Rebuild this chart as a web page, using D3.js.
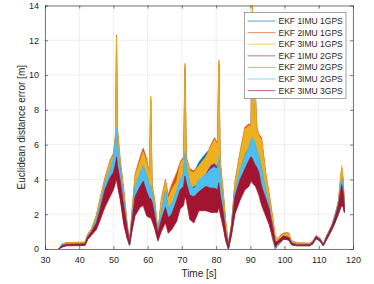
<!DOCTYPE html>
<html>
<head>
<meta charset="utf-8">
<style>
body { margin: 0; background: #fff; }
text { font-family: "Liberation Sans", Arial, sans-serif; fill: #262626; }
.axis path, .axis line { stroke: #262626; stroke-width: 0.6; }
.axis text { font-size: 9px; fill: #262626; }
</style>
</head>
<body>
<svg width="374" height="284"></svg>
<script src="https://d3js.org/d3.v7.min.js"></script>
<script>

// time samples [s], shared by all series
var time = [
  34, 35, 36.3, 41.7, 42.5, 43.6, 45, 46, 47.5, 49,
  50, 50.6, 50.9, 51.2, 52, 53, 54, 54.7, 55.3, 56.3,
  57.8, 58.7, 59.7, 60.5, 60.9, 61.3, 62, 63, 64, 65.2,
  66, 67, 68.5, 69.5, 70.5, 70.9, 71.3, 72.3, 73.5, 75,
  77, 78.5, 79.5, 80.4, 80.8, 81.2, 82, 82.8, 83.6, 84.5,
  85.5, 87, 88.4, 89.6, 90.2, 90.6, 91.0, 91.5, 91.9, 92.5,
  93.3, 94.5, 95.5, 96.5, 97.3, 98, 98.8, 99.6, 100.6, 101.3,
  102, 103.5, 107.4, 108.3, 109.2, 110.4, 111.3, 112.3, 113.8, 114.7,
  115.7, 116.7, 117.1, 117.5];

// each series is noisy, so it is kept as lower / upper envelope of the noise band
var ekf1imu1gpsHi = [
  0, 0.28, 0.34, 0.36, 0.82, 1.12, 1.85, 2.7, 3.9, 4.9,
  5.3, 6.2, 11.8, 6.6, 4.9, 3.2, 1.3, 0.4, 1.7, 4.0,
  5.0, 5.4, 4.9, 4.2, 8.5, 3.5, 2.7, 0.9, 2.7, 3.8,
  2.8, 3.3, 4.0, 4.8, 5.1, 10.4, 5.1, 4.4, 4.4, 5.0,
  5.5, 5.8, 6.1, 5.9, 10.6, 4.9, 3.3, 1.5, 0.25, 1.3,
  3.7, 5.4, 6.8, 7.0, 6.9, 13.5, 7.0, 8.7, 6.8, 6.4,
  6.2, 4.2, 3.0, 1.7, 0.6, 0.45, 0.7, 0.8, 0.85, 0.8,
  0.4, 0.3, 0.3, 0.42, 0.72, 0.58, 0.26, 0.72, 1.3, 1.85,
  2.6, 4.6, 3.9, 2.4];
var ekf1imu1gpsLo = [
  0, 0.18, 0.26, 0.28, 0.65, 0.9, 1.4, 2.2, 3.3, 4.1,
  4.5, 4.9, 5.3, 4.9, 3.7, 2.1, 0.8, 0.2, 1.2, 3.1,
  3.9, 4.3, 3.7, 3.0, 3.1, 2.5, 1.7, 0.6, 1.8, 2.9,
  1.9, 2.3, 3.1, 3.7, 4.0, 4.3, 4.1, 3.5, 3.5, 3.8,
  4.1, 4.4, 4.6, 4.4, 4.7, 3.7, 2.3, 0.8, 0.0, 0.9,
  2.7, 4.5, 5.4, 5.7, 5.9, 5.9, 5.9, 5.7, 5.4, 5.1,
  4.7, 3.2, 2.3, 1.1, 0.25, 0.3, 0.5, 0.65, 0.65, 0.6,
  0.3, 0.22, 0.22, 0.35, 0.6, 0.45, 0.18, 0.55, 1.1, 1.55,
  2.1, 3.1, 2.7, 2.1];

var ekf2imu1gpsHi = [
  0, 0.3, 0.37, 0.4, 0.86, 1.18, 1.95, 2.85, 4.1, 5.1,
  5.5, 6.6, 12.3, 6.9, 5.1, 3.5, 1.5, 0.5, 1.9, 4.3,
  5.3, 5.8, 5.2, 4.4, 8.7, 3.7, 2.9, 1.0, 2.9, 4.0,
  3.1, 3.7, 4.4, 5.0, 5.3, 10.6, 5.3, 4.6, 4.5, 4.8,
  5.3, 6.0, 6.4, 6.1, 10.8, 5.1, 3.5, 1.6, 0.3, 1.4,
  3.9, 5.6, 7.0, 7.2, 7.1, 14.0, 7.3, 8.9, 7.0, 6.6,
  6.4, 4.4, 3.2, 1.9, 0.75, 0.55, 0.8, 0.9, 0.95, 0.9,
  0.48, 0.36, 0.34, 0.47, 0.78, 0.62, 0.3, 0.78, 1.4, 1.95,
  2.75, 4.7, 4.1, 2.6];
var ekf2imu1gpsLo = [
  0, 0.2, 0.28, 0.3, 0.7, 0.95, 1.5, 2.3, 3.4, 4.2,
  4.6, 5.0, 5.5, 5.0, 3.8, 2.2, 0.9, 0.25, 1.3, 3.2,
  4.0, 4.5, 3.9, 3.1, 3.2, 2.6, 1.8, 0.7, 1.9, 3.0,
  2.1, 2.5, 3.3, 3.8, 4.1, 4.4, 4.2, 3.6, 3.6, 3.9,
  4.2, 4.5, 4.7, 4.5, 4.8, 3.8, 2.4, 0.9, 0.05, 1.0,
  2.8, 4.6, 5.5, 5.8, 6.0, 6.0, 6.0, 5.8, 5.5, 5.2,
  4.8, 3.3, 2.4, 1.2, 0.3, 0.35, 0.55, 0.7, 0.7, 0.65,
  0.35, 0.25, 0.25, 0.38, 0.65, 0.5, 0.2, 0.6, 1.15, 1.6,
  2.2, 3.2, 2.8, 2.2];

var ekf3imu1gpsHi = [
  0, 0.3, 0.36, 0.38, 0.85, 1.15, 1.9, 2.8, 4.0, 5.0,
  5.4, 6.4, 12.2, 6.8, 5.0, 3.3, 1.4, 0.45, 1.8, 4.2,
  5.1, 5.6, 5.0, 4.3, 8.8, 3.6, 2.8, 1.0, 2.8, 3.9,
  2.9, 3.4, 3.9, 4.9, 5.2, 10.7, 5.2, 4.5, 4.4, 4.8,
  5.3, 5.9, 6.3, 6.0, 10.9, 5.0, 3.4, 1.6, 0.3, 1.4,
  3.8, 5.5, 6.9, 7.1, 7.0, 14.5, 7.2, 9.0, 6.9, 6.5,
  6.3, 4.3, 3.1, 1.8, 0.7, 0.5, 0.75, 0.85, 0.9, 0.85,
  0.45, 0.35, 0.32, 0.45, 0.75, 0.6, 0.28, 0.75, 1.35, 1.9,
  2.7, 4.8, 4.0, 2.5];
var ekf3imu1gpsLo = [
  0, 0.2, 0.28, 0.3, 0.7, 0.95, 1.5, 2.3, 3.4, 4.2,
  4.6, 5.0, 5.5, 5.0, 3.8, 2.2, 0.9, 0.25, 1.3, 3.2,
  4.0, 4.4, 3.8, 3.1, 3.2, 2.6, 1.8, 0.7, 1.9, 3.0,
  2.0, 2.4, 3.2, 3.8, 4.1, 4.4, 4.2, 3.6, 3.6, 3.9,
  4.2, 4.5, 4.7, 4.5, 4.8, 3.8, 2.4, 0.9, 0.05, 1.0,
  2.8, 4.6, 5.5, 5.8, 6.0, 6.0, 6.0, 5.8, 5.5, 5.2,
  4.8, 3.3, 2.4, 1.2, 0.3, 0.35, 0.55, 0.7, 0.7, 0.65,
  0.35, 0.25, 0.25, 0.38, 0.65, 0.5, 0.2, 0.6, 1.15, 1.6,
  2.2, 3.2, 2.8, 2.2];

var ekf1imu2gpsHi = [
  0, 0.24, 0.29, 0.31, 0.74, 1.0, 1.65, 2.4, 3.7, 4.5,
  5.1, 6.0, 6.7, 5.8, 4.5, 2.8, 1.2, 0.3, 1.5, 3.5,
  4.3, 4.7, 4.2, 3.5, 3.6, 3.1, 2.3, 0.9, 2.0, 3.3,
  2.3, 2.5, 3.3, 3.9, 4.3, 5.4, 4.7, 3.7, 3.3, 3.9,
  4.3, 4.8, 4.9, 4.7, 5.1, 4.1, 2.5, 0.9, 0.05, 1.3,
  3.2, 4.5, 5.2, 5.8, 6.2, 6.3, 6.2, 5.9, 5.6, 5.3,
  4.5, 3.3, 2.5, 1.2, 0.1, 0.38, 0.58, 0.72, 0.72, 0.62,
  0.36, 0.26, 0.26, 0.4, 0.7, 0.56, 0.24, 0.7, 1.32, 1.85,
  2.55, 4.0, 3.5, 2.45];
var ekf1imu2gpsLo = [
  0, 0.15, 0.22, 0.24, 0.6, 0.85, 1.3, 1.9, 2.9, 3.5,
  3.9, 4.4, 4.7, 4.2, 3.1, 1.7, 0.7, 0.2, 1.0, 2.3,
  3.0, 3.2, 2.8, 2.3, 2.3, 2.0, 1.5, 0.6, 1.3, 2.2,
  1.4, 1.6, 2.4, 2.8, 3.1, 3.7, 3.4, 2.6, 2.5, 2.8,
  3.0, 3.2, 3.3, 3.2, 3.4, 2.8, 1.6, 0.5, 0, 0.9,
  2.2, 3.2, 3.8, 4.3, 4.5, 4.6, 4.5, 4.3, 4.1, 3.8,
  3.1, 2.2, 1.6, 0.6, 0, 0.2, 0.35, 0.55, 0.55, 0.5,
  0.25, 0.2, 0.2, 0.32, 0.6, 0.45, 0.18, 0.55, 1.1, 1.5,
  2.0, 2.8, 2.6, 2.2];

var ekf2imu2gpsHi = [
  0, 0.23, 0.28, 0.3, 0.72, 1.0, 1.6, 2.35, 3.6, 4.4,
  4.9, 5.7, 6.3, 5.5, 4.3, 2.7, 1.2, 0.35, 1.5, 3.4,
  4.1, 4.5, 4.0, 3.4, 3.4, 3.0, 2.3, 0.95, 2.0, 3.2,
  2.3, 2.5, 3.2, 3.8, 4.1, 5.2, 4.5, 3.6, 3.3, 3.8,
  4.1, 4.4, 4.5, 4.4, 4.9, 4.0, 2.7, 1.1, 0.1, 1.4,
  3.2, 4.4, 5.1, 5.6, 6.0, 6.1, 6.0, 5.7, 5.5, 5.2,
  4.4, 3.3, 2.5, 1.3, 0.2, 0.4, 0.6, 0.75, 0.72, 0.62,
  0.36, 0.27, 0.27, 0.4, 0.7, 0.56, 0.24, 0.7, 1.32, 1.85,
  2.55, 3.9, 3.5, 2.45];
var ekf2imu2gpsLo = [
  0, 0.13, 0.2, 0.22, 0.58, 0.82, 1.2, 1.8, 2.7, 3.3,
  3.7, 4.2, 4.5, 4.0, 3.0, 1.6, 0.65, 0.2, 0.95, 2.1,
  2.8, 3.0, 2.5, 2.1, 2.1, 1.8, 1.4, 0.55, 1.2, 2.0,
  1.2, 1.4, 2.1, 2.6, 2.9, 3.4, 3.2, 2.3, 2.2, 2.6,
  2.8, 2.9, 3.0, 3.0, 3.2, 2.6, 1.5, 0.5, 0, 0.85,
  2.1, 3.1, 3.7, 4.1, 4.3, 4.4, 4.3, 4.1, 3.9, 3.6,
  2.9, 2.1, 1.5, 0.6, 0.05, 0.22, 0.38, 0.55, 0.55, 0.5,
  0.25, 0.19, 0.19, 0.31, 0.6, 0.45, 0.18, 0.55, 1.1, 1.5,
  1.95, 2.7, 2.5, 2.15];

var ekf3imu2gpsHi = [
  0, 0.25, 0.3, 0.32, 0.75, 1.05, 1.7, 2.5, 3.8, 4.6,
  5.3, 6.3, 7.0, 6.0, 4.6, 2.9, 1.3, 0.35, 1.6, 3.6,
  4.4, 4.8, 4.3, 3.6, 3.7, 3.2, 2.4, 1.0, 2.1, 3.4,
  2.4, 2.6, 3.4, 4.0, 4.4, 5.6, 4.8, 3.8, 3.4, 4.0,
  4.3, 4.6, 4.7, 4.6, 5.3, 4.2, 2.6, 1.0, 0.05, 1.4,
  3.3, 4.6, 5.3, 5.9, 6.3, 6.4, 6.3, 6.0, 5.7, 5.4,
  4.6, 3.4, 2.6, 1.3, 0.1, 0.4, 0.6, 0.75, 0.75, 0.65,
  0.38, 0.28, 0.28, 0.42, 0.72, 0.58, 0.25, 0.72, 1.35, 1.9,
  2.6, 4.1, 3.6, 2.5];
var ekf3imu2gpsLo = [
  0, 0.15, 0.22, 0.24, 0.6, 0.85, 1.3, 1.9, 2.9, 3.6,
  4.0, 4.5, 4.8, 4.3, 3.2, 1.7, 0.7, 0.2, 1.0, 2.3,
  3.1, 3.3, 2.8, 2.4, 2.4, 2.0, 1.5, 0.6, 1.3, 2.2,
  1.4, 1.6, 2.4, 2.9, 3.2, 3.8, 3.5, 2.6, 2.6, 2.9,
  3.1, 3.2, 3.3, 3.3, 3.5, 2.9, 1.6, 0.5, 0, 0.9,
  2.2, 3.3, 3.9, 4.4, 4.6, 4.7, 4.6, 4.4, 4.2, 3.9,
  3.2, 2.3, 1.6, 0.6, 0, 0.2, 0.35, 0.55, 0.55, 0.5,
  0.25, 0.2, 0.2, 0.32, 0.6, 0.45, 0.18, 0.55, 1.1, 1.5,
  2.0, 2.8, 2.6, 2.2];

var ekf3imu3gpsHi = [
  0, 0.2, 0.26, 0.3, 0.7, 1.0, 1.5, 2.2, 3.4, 4.1,
  4.4, 4.9, 5.3, 4.8, 3.9, 2.5, 1.2, 0.4, 1.4, 3.0,
  3.6, 3.9, 3.3, 2.9, 2.9, 2.7, 2.0, 0.9, 1.7, 2.4,
  1.8, 2.0, 2.8, 3.4, 3.6, 4.2, 3.8, 3.1, 3.0, 3.3,
  3.6, 3.5, 3.5, 3.4, 3.8, 3.1, 2.2, 1.0, 0.2, 1.3,
  3.0, 4.0, 4.6, 5.1, 5.3, 5.2, 5.0, 4.8, 4.7, 4.4,
  3.6, 2.9, 2.3, 1.3, 0.4, 0.45, 0.6, 0.75, 0.7, 0.65,
  0.35, 0.25, 0.25, 0.4, 0.72, 0.55, 0.25, 0.7, 1.3, 1.8,
  2.5, 3.7, 3.3, 2.4];
var ekf3imu3gpsLo = [
  0, 0.1, 0.18, 0.2, 0.55, 0.8, 1.1, 1.6, 2.4, 3.0,
  3.4, 3.8, 4.0, 3.6, 2.8, 1.4, 0.6, 0.25, 0.9, 1.9,
  2.4, 2.5, 1.9, 1.8, 1.8, 1.6, 1.2, 0.45, 1.0, 1.5,
  0.9, 1.1, 1.6, 2.3, 2.5, 3.0, 2.8, 1.7, 1.5, 2.2,
  2.2, 2.1, 2.1, 2.1, 2.4, 2.0, 1.3, 0.5, 0, 0.8,
  2.0, 2.8, 3.4, 3.6, 3.9, 3.8, 3.7, 3.6, 3.4, 3.1,
  2.5, 1.9, 1.4, 0.7, 0.1, 0.3, 0.4, 0.55, 0.55, 0.5,
  0.25, 0.18, 0.18, 0.3, 0.6, 0.45, 0.18, 0.55, 1.1, 1.5,
  2.0, 2.5, 2.4, 2.1];

var seriesNames = ["EKF 1IMU 1GPS", "EKF 2IMU 1GPS", "EKF 3IMU 1GPS",
  "EKF 1IMU 2GPS", "EKF 2IMU 2GPS", "EKF 3IMU 2GPS", "EKF 3IMU 3GPS"];
var seriesColors = ["#0072BD", "#D95319", "#EDB120", "#7E2F8E", "#77AC30", "#4DBEEE", "#A2142F"];
var xTicks = [30, 40, 50, 60, 70, 80, 90, 100, 110, 120];
var yTicks = [0, 2, 4, 6, 8, 10, 12, 14];

var lows = [ekf1imu1gpsLo, ekf2imu1gpsLo, ekf3imu1gpsLo, ekf1imu2gpsLo, ekf2imu2gpsLo, ekf3imu2gpsLo, ekf3imu3gpsLo];
var highs = [ekf1imu1gpsHi, ekf2imu1gpsHi, ekf3imu1gpsHi, ekf1imu2gpsHi, ekf2imu2gpsHi, ekf3imu2gpsHi, ekf3imu3gpsHi];

var series = seriesNames.map(function(name, i) {
  return {
    name: name,
    color: seriesColors[i],
    values: time.map(function(t, j) { return {t: t, lo: lows[i][j], hi: highs[i][j]}; })
  };
});

var svg = d3.select("svg");
var plotL = 45, plotR = 353, plotT = 5.5, plotB = 249;

var x = d3.scaleLinear().domain([30, 120]).range([plotL, plotR]);
var y = d3.scaleLinear().domain([0, 14]).range([plotB, plotT]);

// grid
var grid = svg.append("g");
grid.selectAll(".gx").data(xTicks).enter().append("line")
    .attr("x1", d => x(d)).attr("x2", d => x(d))
    .attr("y1", plotT).attr("y2", plotB)
    .attr("stroke", "#e3e3e3").attr("stroke-width", 0.6);
grid.selectAll(".gy").data(yTicks).enter().append("line")
    .attr("y1", d => y(d)).attr("y2", d => y(d))
    .attr("x1", plotL).attr("x2", plotR)
    .attr("stroke", "#e3e3e3").attr("stroke-width", 0.6);

svg.append("clipPath").attr("id", "plotclip")
  .append("rect").attr("x", plotL).attr("y", plotT)
    .attr("width", plotR - plotL).attr("height", plotB - plotT);

var area = d3.area()
    .x(d => x(d.t))
    .y0(d => y(d.lo))
    .y1(d => y(d.hi));

svg.append("g")
    .attr("clip-path", "url(#plotclip)")
  .selectAll("path")
  .data(series)
  .enter().append("path")
    .attr("d", d => area(d.values))
    .attr("fill", d => d.color)
    .attr("stroke", d => d.color)
    .attr("stroke-width", 0.7)
    .attr("stroke-linejoin", "round");

// axes with inward ticks, box style
svg.append("g").attr("class", "axis")
    .attr("transform", "translate(0," + plotB + ")")
    .call(d3.axisBottom(x).tickValues(xTicks).tickSizeInner(-3).tickSizeOuter(0).tickPadding(7.5));
svg.append("g").attr("class", "axis")
    .attr("transform", "translate(" + plotL + ",0)")
    .call(d3.axisLeft(y).tickValues(yTicks).tickSizeInner(-3).tickSizeOuter(0).tickPadding(6));
svg.append("g").attr("class", "axis")
    .attr("transform", "translate(0," + plotT + ")")
    .call(d3.axisTop(x).tickValues(xTicks).tickSizeInner(-3).tickSizeOuter(0).tickFormat(""));
svg.append("g").attr("class", "axis")
    .attr("transform", "translate(" + plotR + ",0)")
    .call(d3.axisRight(y).tickValues(yTicks).tickSizeInner(-3).tickSizeOuter(0).tickFormat(""));
svg.selectAll(".axis .domain").attr("stroke", "#262626");

svg.append("text")
    .attr("x", (plotL + plotR) / 2).attr("y", 277)
    .attr("text-anchor", "middle")
    .style("font-size", "10px")
    .text("Time [s]");

svg.append("text")
    .attr("transform", "translate(25," + ((plotT + plotB) / 2) + ") rotate(-90)")
    .attr("text-anchor", "middle")
    .style("font-size", "10px")
    .text("Euclidean distance error [m]");

// legend
var legend = svg.append("g");
legend.append("rect")
    .attr("x", 244.5).attr("y", 12.5)
    .attr("width", 101.5).attr("height", 86)
    .attr("fill", "#fff")
    .attr("stroke", "#666").attr("stroke-width", 0.6);

var rows = legend.selectAll(".row").data(series).enter().append("g")
    .attr("transform", (d, i) => "translate(0," + (21 + i * 11.6) + ")");
rows.append("line")
    .attr("x1", 247.5).attr("x2", 275.5)
    .attr("stroke", d => d.color)
    .attr("stroke-opacity", (d, i) => i === 3 ? 0.4 : 0.65)
    .attr("stroke-width", (d, i) => i === 3 ? 1.6 : 1);
rows.append("text")
    .attr("x", 278.5).attr("dy", "0.35em")
    .style("font-size", "8.5px")
    .text(d => d.name);

</script>
</body>
</html>
